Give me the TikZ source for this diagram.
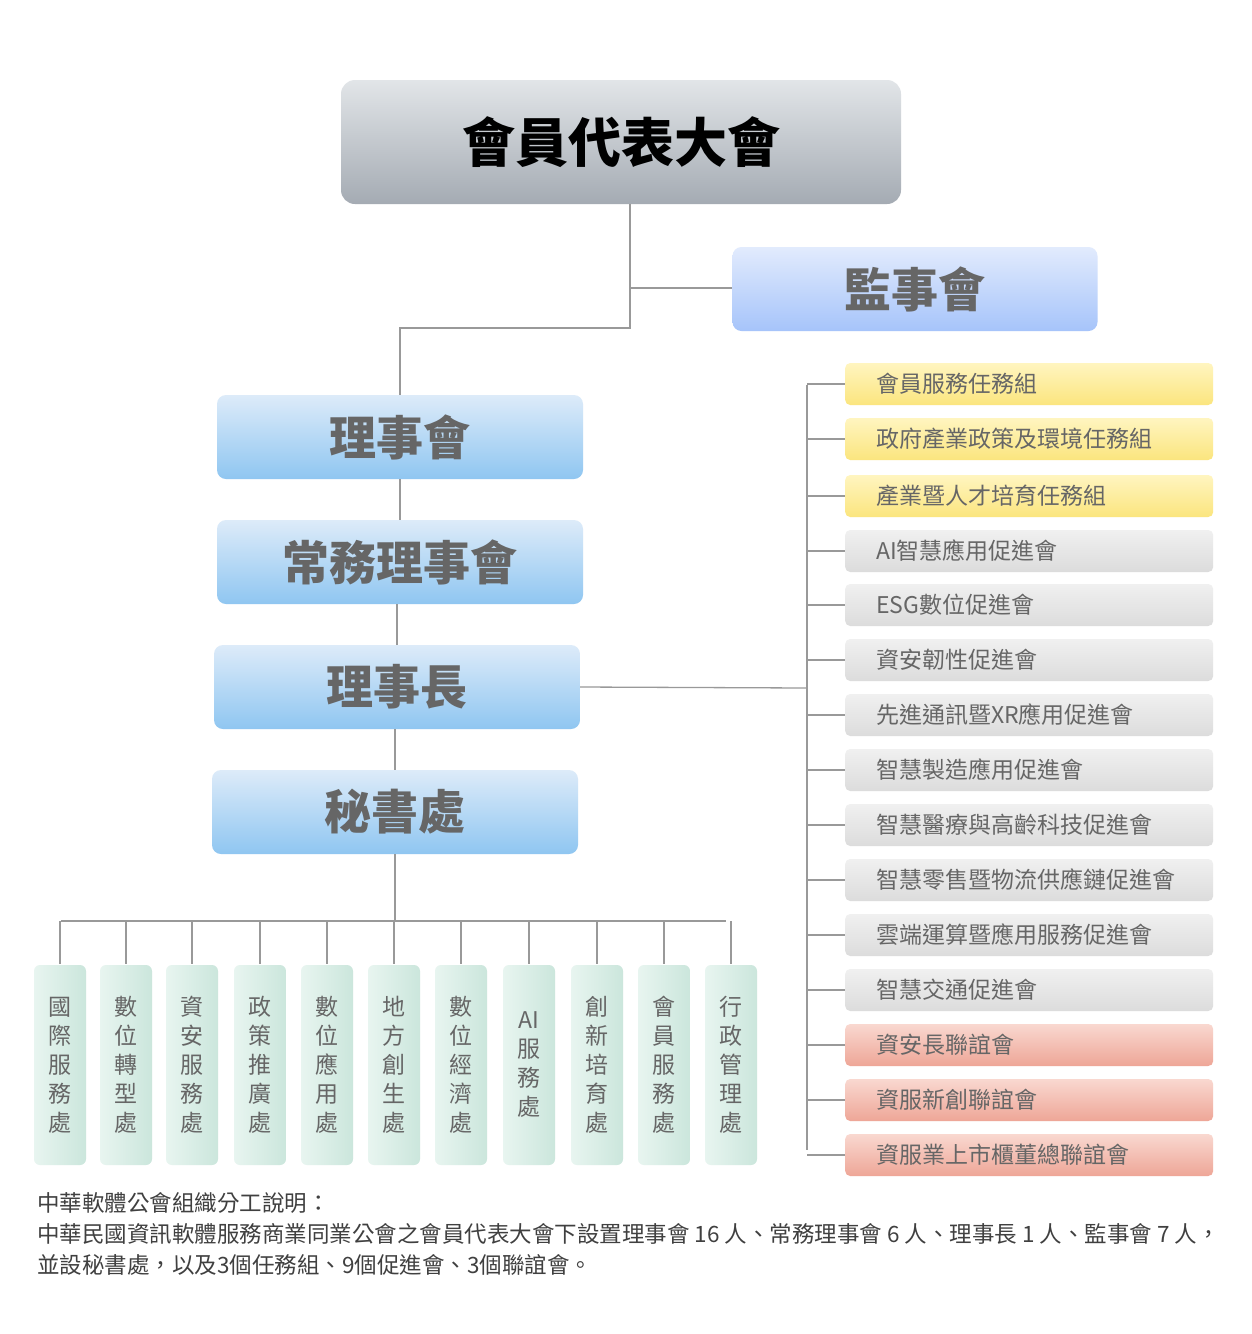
\documentclass[tikz,border=0pt]{standalone}
\usepackage{fontspec}
\setmainfont{Noto Sans CJK TC}
\usetikzlibrary{positioning}
\definecolor{ln}{HTML}{999999}
\definecolor{tx}{HTML}{666666}
\definecolor{topA}{HTML}{E2E5E8}
\definecolor{topB}{HTML}{A4ABB3}
\definecolor{blA}{HTML}{DDEBF9}
\definecolor{blB}{HTML}{8FC6F1}
\definecolor{spA}{HTML}{E2EBFD}
\definecolor{spB}{HTML}{A6C4FA}
\definecolor{vA}{HTML}{E8F5F0}
\definecolor{vB}{HTML}{CBE6DC}
\definecolor{yA}{HTML}{FFF5C0}
\definecolor{yB}{HTML}{FBE57E}
\definecolor{gA}{HTML}{F0F0F0}
\definecolor{gB}{HTML}{DCDCDC}
\definecolor{pA}{HTML}{F9D8D0}
\definecolor{pB}{HTML}{EEA697}
\tikzset{
 x=1pt,y=-1pt,
 conn/.style={draw=ln,line width=1.3pt},
 topbox/.style={rounded corners=14pt,top color=topA,bottom color=topB,draw=none,minimum width=560pt,minimum height=124pt,font=\fontsize{53}{53}\selectfont\bfseries},
 bluebox/.style={rounded corners=9pt,top color=blA,bottom color=blB,draw=none,minimum width=366pt,minimum height=84pt,text=tx,font=\fontsize{47}{47}\selectfont\bfseries},
 supbox/.style={rounded corners=9pt,top color=spA,bottom color=spB,draw=none,minimum width=365pt,minimum height=84pt,text=tx,font=\fontsize{47}{47}\selectfont\bfseries},
 vbox/.style={rounded corners=6pt,left color=vA,right color=vB,draw=none,minimum width=52pt,minimum height=200pt,text=tx,font=\fontsize{23}{29}\selectfont,align=center},
 rbox/.style={rounded corners=5pt,draw=none,minimum width=368pt,minimum height=42pt,text=tx,font=\fontsize{23}{23}\selectfont,anchor=west,text width=368pt,align=left,inner sep=0pt},
 ybox/.style={rbox,top color=yA,bottom color=yB},
 gbox/.style={rbox,top color=gA,bottom color=gB},
 pbox/.style={rbox,top color=pA,bottom color=pB},
}
\begin{document}
\begin{tikzpicture}
\fill[white] (0,0) rectangle (1251,1334);
\node[topbox] (top) at (621,142) {會員代表大會};
\node[supbox] (sup) at (915,289) {監事會};
\node[bluebox] (b1) at (400,437) {理事會};
\node[bluebox] (b2) at (400,562) {常務理事會};
\node[bluebox] (b3) at (397,687) {理事長};
\node[bluebox] (b4) at (395,812) {秘書處};
\coordinate (j1) at (630,328);
\coordinate (j1s) at (630,288);
\draw[conn] (top.south -| j1) -- (j1) -| (b1.north);
\draw[conn] (j1s) -- (sup.west |- j1s);
\draw[conn] (b1.south) -- (b2.north);
\draw[conn] (b2.south -| 397,0) -- (b3.north);
\draw[conn] (b3.south -| 395,0) -- (b4.north);
\coordinate (hb) at (395,921);
\draw[conn] (b4.south) -- (hb);
\draw[conn] (61,921) -- (726,921);
\foreach \i/\x/\t in {1/60/{國\\際\\服\\務\\處},2/126/{數\\位\\轉\\型\\處},3/192/{資\\安\\服\\務\\處},4/260/{政\\策\\推\\廣\\處},5/327/{數\\位\\應\\用\\處},6/394/{地\\方\\創\\生\\處},7/461/{數\\位\\經\\濟\\處},8/529/{AI\\服\\務\\處},9/597/{創\\新\\培\\育\\處},10/664/{會\\員\\服\\務\\處},11/731/{行\\政\\管\\理\\處}}{
 \node[vbox] (v\i) at (\x,1065) {\t};
 \draw[conn] (\x,921) -- (\x,964);
}
\coordinate (rt) at (807,385);
\coordinate (rb) at (807,1150);
\draw[conn] (rt) -- (rb);
\draw[conn] (b3.east) -- (807,688);
\foreach \i/\y/\s/\t in {1/384/ybox/會員服務任務組,2/439/ybox/政府產業政策及環境任務組,3/496/ybox/產業暨人才培育任務組,4/551/gbox/AI智慧應用促進會,5/605/gbox/ESG數位促進會,6/660/gbox/資安韌性促進會,7/715/gbox/先進通訊暨XR應用促進會,8/770/gbox/智慧製造應用促進會,9/825/gbox/智慧醫療與高齡科技促進會,10/880/gbox/智慧零售暨物流供應鏈促進會,11/935/gbox/雲端運算暨應用服務促進會,12/990/gbox/智慧交通促進會,13/1045/pbox/資安長聯誼會,14/1100/pbox/資服新創聯誼會,15/1155/pbox/資服業上市櫃董總聯誼會}{
 \node[\s] (r\i) at (845,\y) {\hspace*{31pt}\t};
 \draw[conn] (807,\y) -- (r\i.west);
}
\node[anchor=north west,text=black!75,font=\fontsize{22.5}{31}\selectfont,align=left,inner sep=0pt] (note) at (37,1192) {中華軟體公會組織分工說明：\\中華民國資訊軟體服務商業同業公會之會員代表大會下設置理事會 16 人、常務理事會 6 人、理事長 1 人、監事會 7 人，\\並設秘書處，以及3個任務組、9個促進會、3個聯誼會。};
\end{tikzpicture}
\end{document}
